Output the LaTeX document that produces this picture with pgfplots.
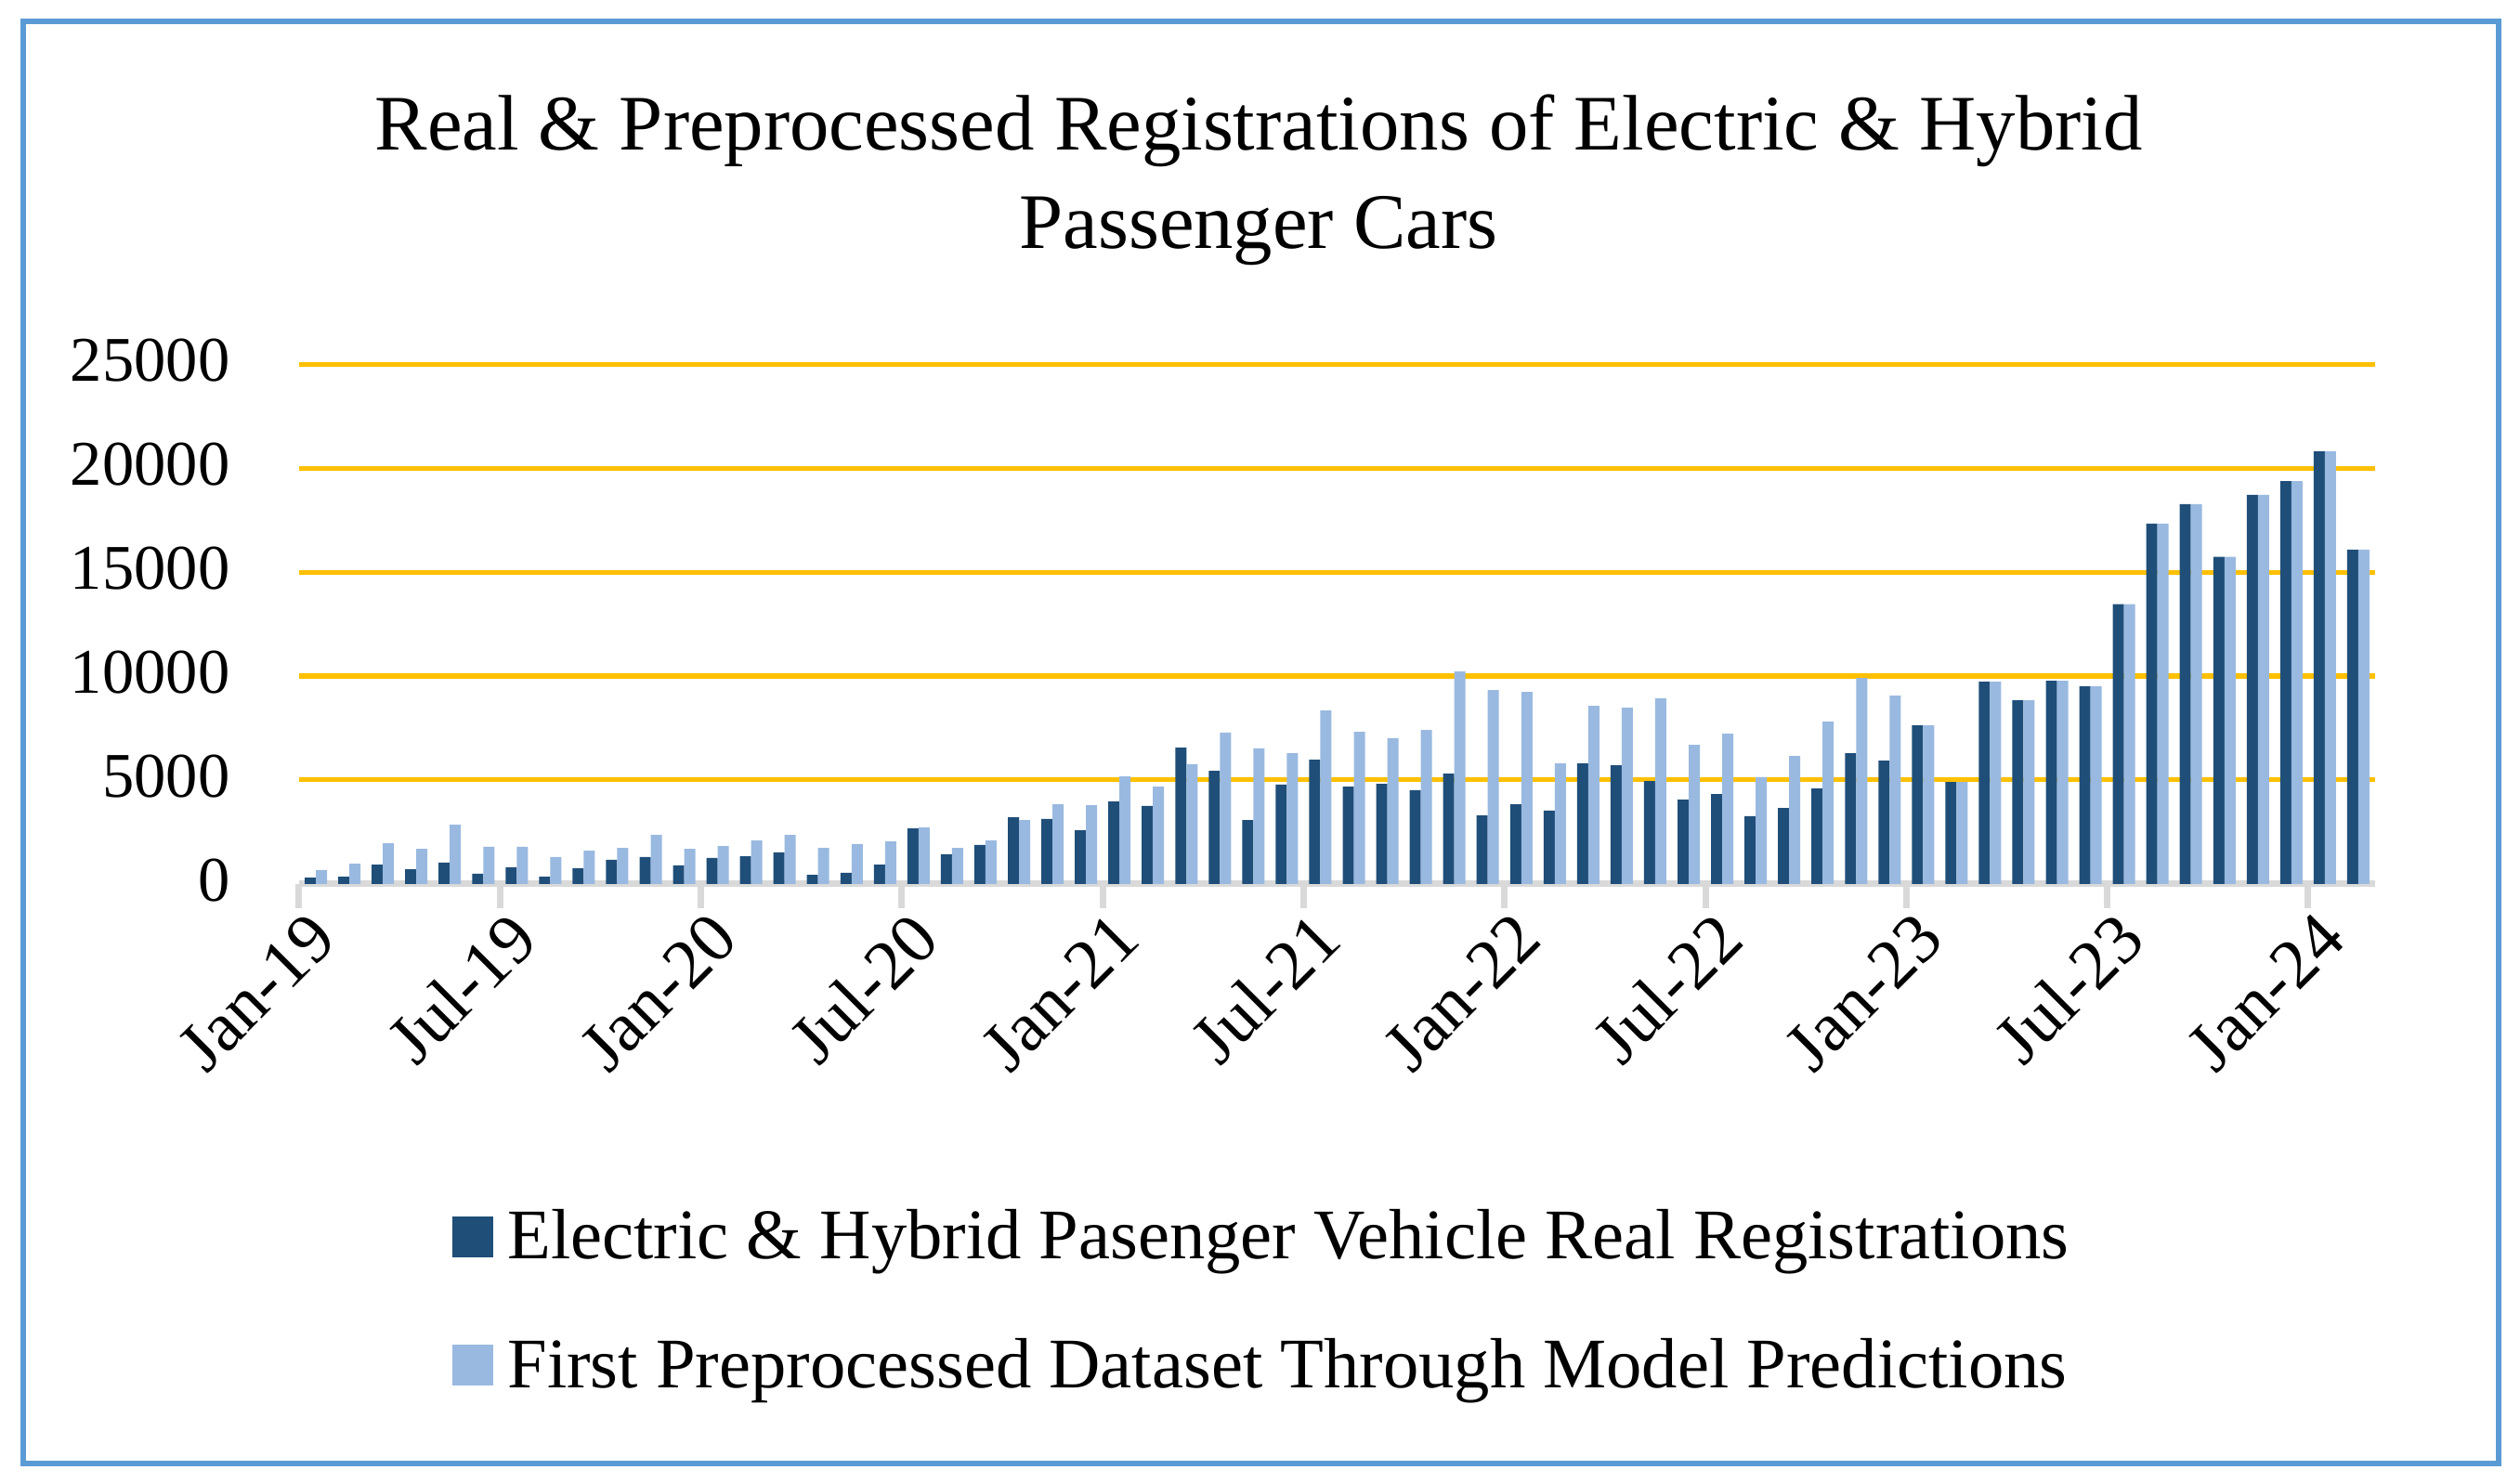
\documentclass[border=0pt]{standalone}
\usepackage{fontspec}
\setmainfont{Liberation Serif}
\usepackage{pgfplots}
\usepackage{pgfplotstable}
\pgfplotsset{compat=1.18}

\definecolor{realbar}{RGB}{31,78,121}
\definecolor{predbar}{RGB}{153,185,224}
\definecolor{gridgold}{RGB}{255,192,0}
\definecolor{axisgray}{RGB}{217,217,217}
\definecolor{frameblue}{RGB}{91,155,213}

% month index (bar centre), real registrations, preprocessed dataset
\pgfplotstableread{
x    real   pred
0.5  312    670
1.5  357    982
2.5  937    1964
3.5  714    1696
4.5  1027   2857
5.5  491    1786
6.5  804    1786
7.5  357    1295
8.5  759    1607
9.5  1161   1741
10.5 1295   2366
11.5 893    1696
12.5 1250   1830
13.5 1339   2098
14.5 1518   2366
15.5 446    1741
16.5 536    1920
17.5 937    2053
18.5 2678   2723
19.5 1429   1741
20.5 1875   2098
21.5 3214   3080
22.5 3125   3839
23.5 2589   3794
24.5 3973   5178
25.5 3750   4687
26.5 6562   5759
27.5 5446   7277
28.5 3080   6518
29.5 4777   6294
30.5 5982   8348
31.5 4687   7321
32.5 4821   7009
33.5 4509   7410
34.5 5312   10223
35.5 3303   9330
36.5 3839   9240
37.5 3527   5803
38.5 5803   8571
39.5 5714   8482
40.5 4955   8928
41.5 4062   6696
42.5 4330   7232
43.5 3259   5134
44.5 3660   6160
45.5 4598   7812
46.5 6294   9910
47.5 5937   9062
48.5 7633   7633
49.5 4910   4910
50.5 9732   9732
51.5 8839   8839
52.5 9776   9776
53.5 9508   9508
54.5 13455  13455
55.5 17322  17322
56.5 18259  18259
57.5 15727  15727
58.5 18710  18710
59.5 19369  19369
60.5 20808  20808
61.5 16074  16074
}\regdata

\begin{document}
\begin{tikzpicture}
  \useasboundingbox (-3.22,-6.45) rectangle (23.91,9.52);
  \draw[frameblue, line width=0.06cm] (-2.97,-6.24) rectangle (23.68,9.29);

  \node[anchor=base, font=\fontsize{24.1}{29}\selectfont] at (10.33,7.90)
    {Real \& Preprocessed Registrations of Electric \& Hybrid};
  \node[anchor=base, font=\fontsize{24.1}{29}\selectfont] at (10.33,6.84)
    {Passenger Cars};

  \begin{axis}[
      at={(0,0)}, anchor=south west,
      scale only axis, width=22.35cm, height=5.6cm,
      xmin=0, xmax=62, ymin=0, ymax=25000,
      ybar=0pt, bar width=0.12cm,
      axis x line*=bottom, axis y line*=left,
      x axis line style={draw=axisgray, line width=0.07cm},
      y axis line style={draw=none},
      ymajorgrids, major grid style={draw=gridgold, line width=0.05cm},
      tick align=outside, major tick length=0.26cm,
      x tick style={draw=axisgray, line width=0.07cm},
      y tick style={draw=none},
      scaled y ticks=false,
      ytick={0,5000,10000,15000,20000,25000},
      xtick={0,6,...,60},
      xticklabels={Jan-19,Jul-19,Jan-20,Jul-20,Jan-21,Jul-21,Jan-22,Jul-22,Jan-23,Jul-23,Jan-24},
      /pgf/number format/assume math mode=true,
      /pgf/number format/set thousands separator={},
      xticklabel style={font=\fontsize{21.5}{26}\selectfont,
        xshift=0.26cm, yshift=-0.19cm, rotate=45, anchor=east, inner sep=0pt},
      yticklabel style={font=\fontsize{19.5}{24}\selectfont,
        anchor=east, inner sep=0pt, xshift=-0.48cm, yshift=0.04cm},
      legend style={draw=none, fill=none, at={(0.069,-0.60)}, anchor=north west,
        font=\fontsize{21.8}{26}\selectfont, row sep=0.66cm,
        /tikz/every odd column/.append style={column sep=0.08cm}},
      legend cell align=left,
      legend image code/.code={\fill[#1] (0cm,-0.22cm) rectangle (0.44cm,0.22cm);},
    ]
    \addplot[draw=none, fill=realbar] table[x=x, y=real] {\regdata};
    \addplot[draw=none, fill=predbar] table[x=x, y=pred] {\regdata};
    \legend{Electric \& Hybrid Pasenger Vehicle Real Registrations,
            First Preprocessed Dataset Through Model Predictions}
  \end{axis}
\end{tikzpicture}
\end{document}
